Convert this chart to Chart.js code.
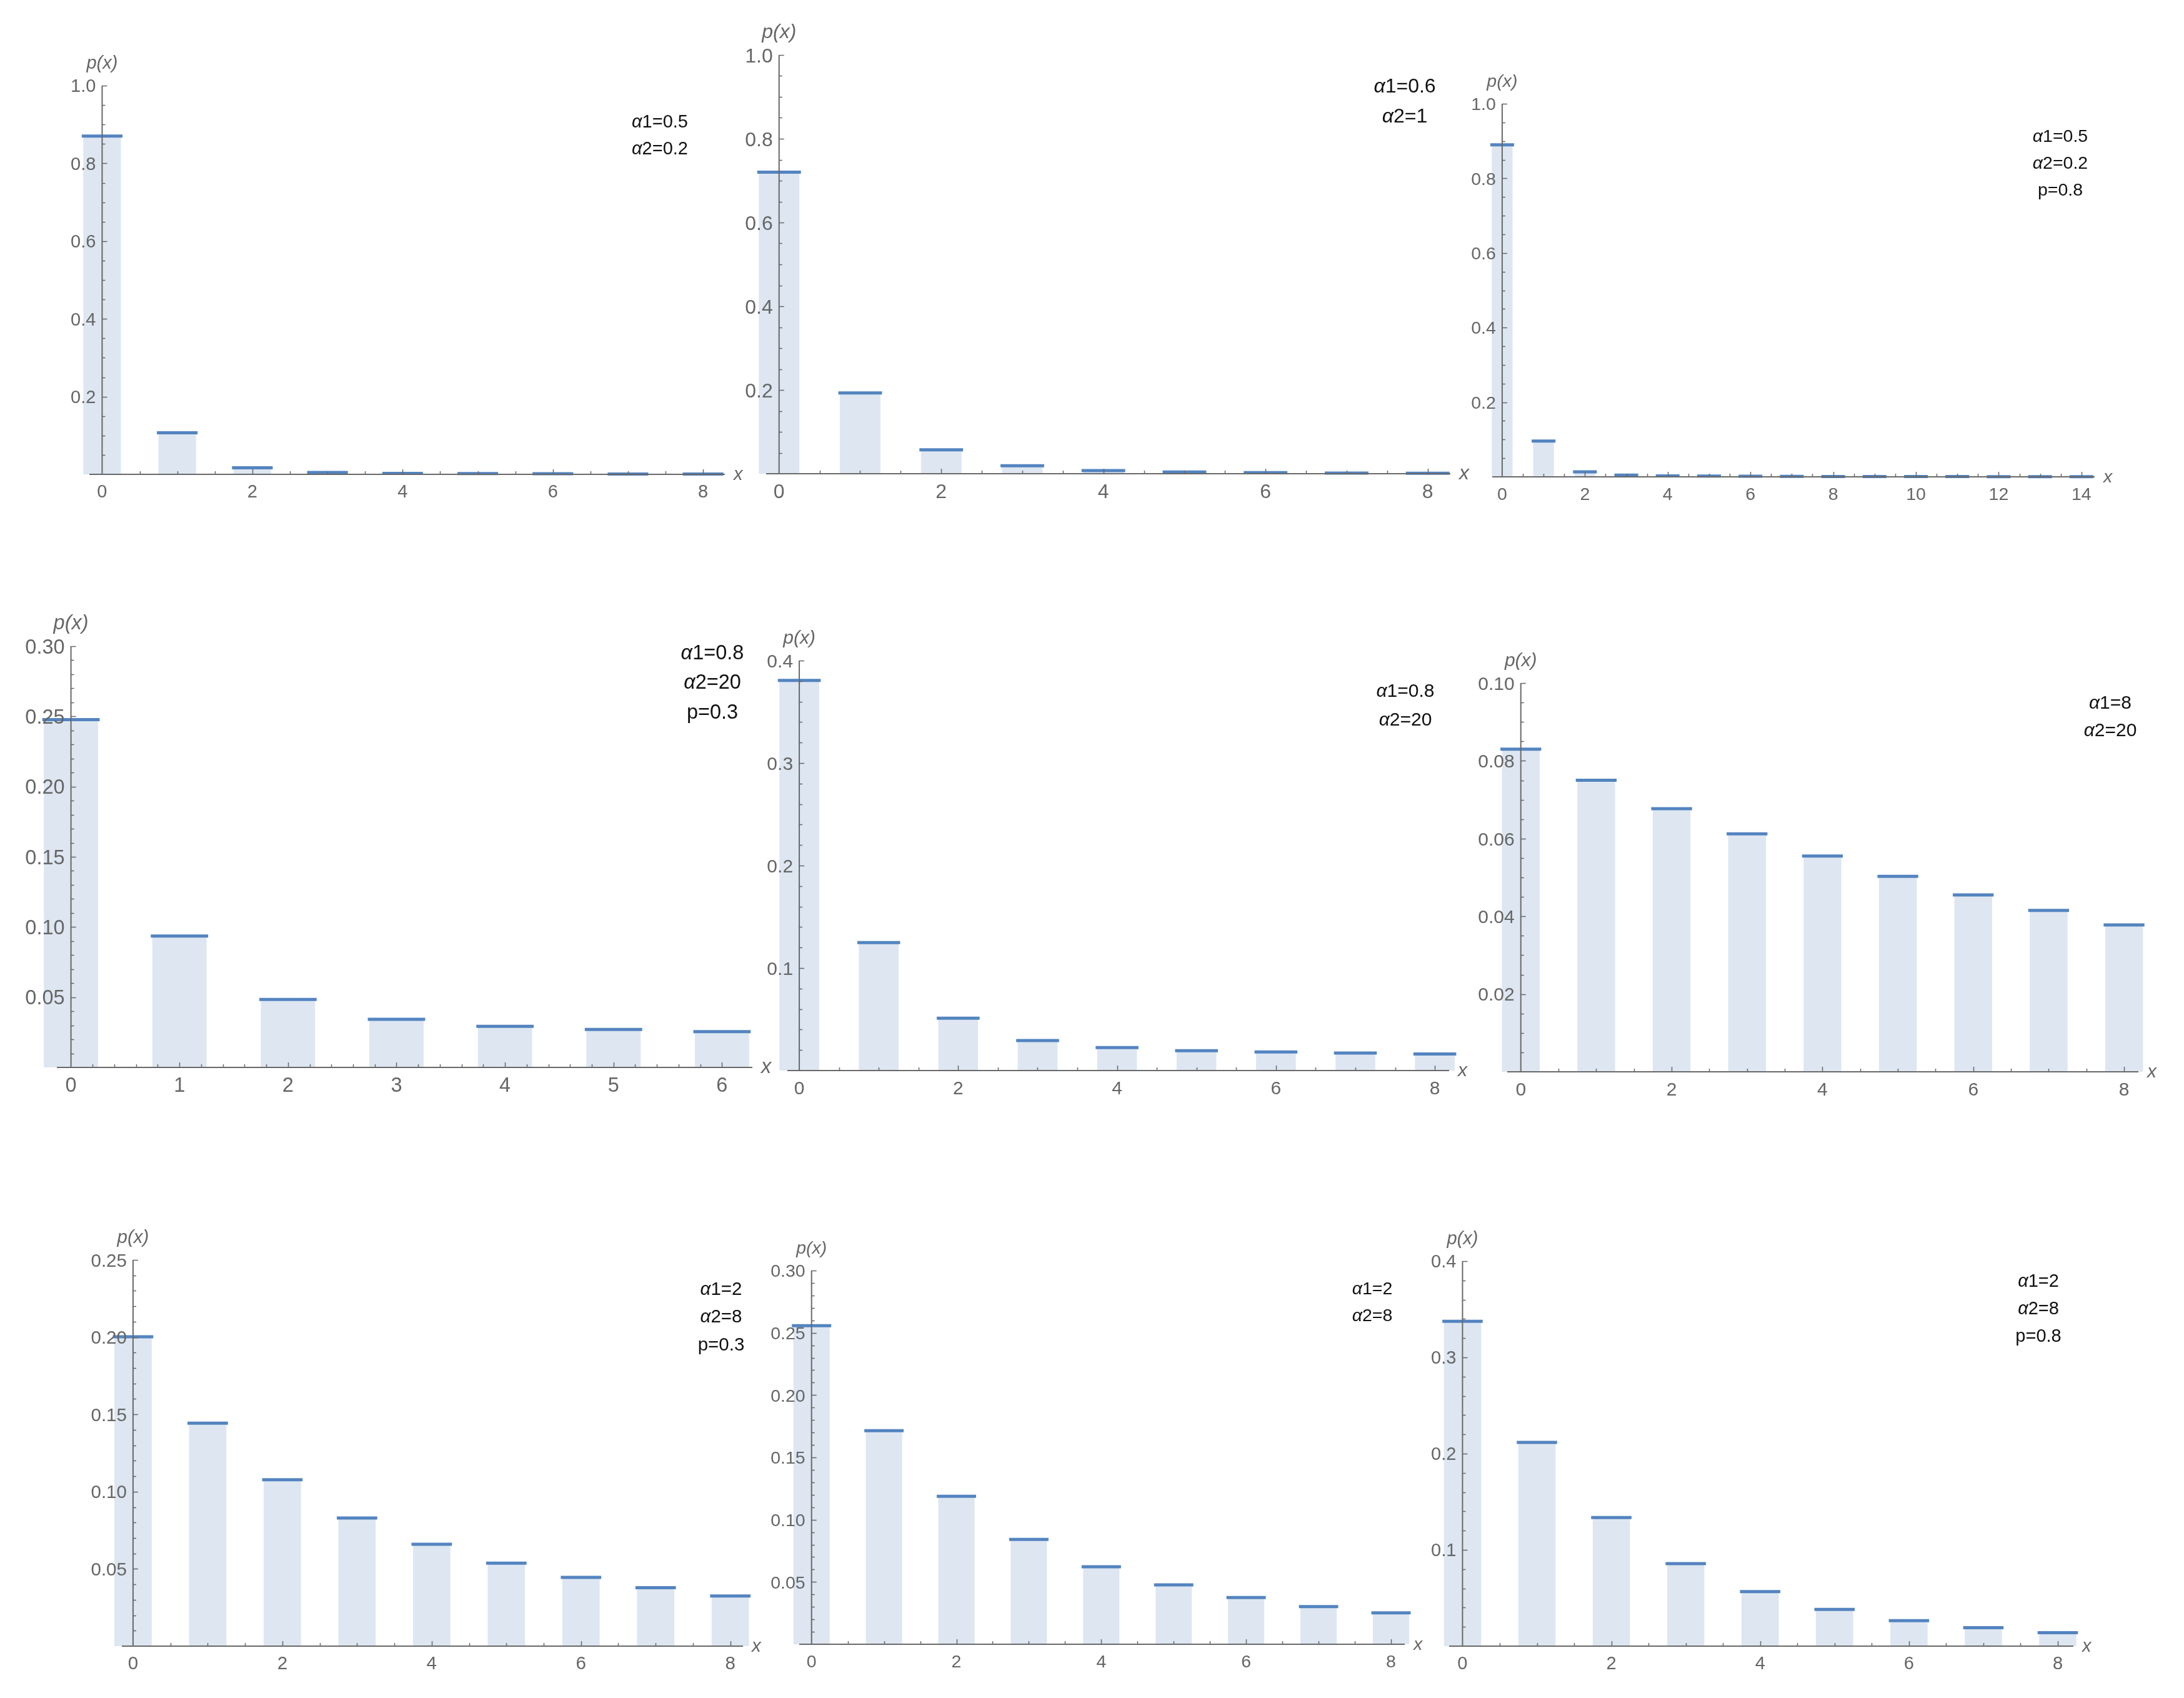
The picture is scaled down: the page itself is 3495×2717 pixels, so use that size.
<!DOCTYPE html>
<html>
<head>
<meta charset="utf-8">
<script src="https://cdn.jsdelivr.net/npm/chart.js@4.4.1/dist/chart.umd.min.js"></script>
<style>
html, body { margin: 0; background: #fff; }
#board { position: relative; width: 3495px; height: 2717px; overflow: hidden; background: #fff; }
#board canvas { position: absolute; }
</style>
</head>
<body>
<div id="board"></div>
<script>
// x values of the bars
const xTo6 = [0, 1, 2, 3, 4, 5, 6];
const xTo8 = [0, 1, 2, 3, 4, 5, 6, 7, 8];
const xTo14 = [0, 1, 2, 3, 4, 5, 6, 7, 8, 9, 10, 11, 12, 13, 14];

// p(x), one array per panel (row by row)
const pA = [0.870, 0.107, 0.017, 0.005, 0.0025, 0.002, 0.0015, 0.001, 0.001];
const pB = [0.720, 0.193, 0.057, 0.019, 0.0076, 0.004, 0.0025, 0.0015, 0.001];
const pC = [0.890, 0.096, 0.0135, 0.0045, 0.0025, 0.002, 0.0015, 0.0012, 0.001, 0.0009, 0.0008, 0.0007, 0.0006, 0.0005, 0.0005];
const pD = [0.2477, 0.0936, 0.0484, 0.0343, 0.0293, 0.0270, 0.0255];
const pE = [0.3807, 0.1248, 0.0511, 0.0293, 0.0224, 0.0193, 0.0181, 0.0171, 0.0162];
const pF = [0.0830, 0.0750, 0.0677, 0.0612, 0.0555, 0.0503, 0.0455, 0.0415, 0.0378];
const pG = [0.2002, 0.1443, 0.1077, 0.0829, 0.0659, 0.0537, 0.0445, 0.0378, 0.0325];
const pH = [0.2557, 0.1714, 0.1188, 0.0841, 0.0622, 0.0476, 0.0375, 0.0302, 0.0252];
const pI = [0.3375, 0.2117, 0.1336, 0.0857, 0.0567, 0.0381, 0.0264, 0.0192, 0.0140];

// tick labels
const yTicks1 = ['0.2', '0.4', '0.6', '0.8', '1.0'];
const yTicks030 = ['0.05', '0.10', '0.15', '0.20', '0.25', '0.30'];
const yTicks025 = ['0.05', '0.10', '0.15', '0.20', '0.25'];
const yTicks04 = ['0.1', '0.2', '0.3', '0.4'];
const yTicks010 = ['0.02', '0.04', '0.06', '0.08', '0.10'];
const xTicks8 = ['0', '2', '4', '6', '8'];
const xTicks6 = ['0', '1', '2', '3', '4', '5', '6'];
const xTicks14 = ['0', '2', '4', '6', '8', '10', '12', '14'];

// parameter notes
const noteA = ['α1=0.5', 'α2=0.2'];
const noteB = ['α1=0.6', 'α2=1'];
const noteC = ['α1=0.5', 'α2=0.2', 'p=0.8'];
const noteD = ['α1=0.8', 'α2=20', 'p=0.3'];
const noteE = ['α1=0.8', 'α2=20'];
const noteF = ['α1=8', 'α2=20'];
const noteG = ['α1=2', 'α2=8', 'p=0.3'];
const noteH = ['α1=2', 'α2=8'];
const noteI = ['α1=2', 'α2=8', 'p=0.8'];

const fillColor = '#dde6f1';
const capColor = '#5384c0';
const axisColor = '#686868';
const labelColor = '#666666';
const fontName = '"Liberation Sans", Arial, sans-serif';

// where each panel sits on the page (axis origin, top of y axis, px per unit on x)
const panels = [
    {xs: xTo8,  ys: pA, yMax: 1.0,  yLab: yTicks1,   yMinor: 0.05,  xLab: xTicks8,  xMinor: 0.5, ax: 163,  ay: 759,  top: 137,  unit: 120.2, x0: -0.17, x1: 8.29,  note: noteA, tx: 1056, ty: 194,  dy: 43,   fs: 29},
    {xs: xTo8,  ys: pB, yMax: 1.0,  yLab: yTicks1,   yMinor: 0.05,  xLab: xTicks8,  xMinor: 0.5, ax: 1247, ay: 758,  top: 88,   unit: 129.75,x0: -0.16, x1: 8.28,  note: noteB, tx: 2248, ty: 136,  dy: 48,   fs: 32},
    {xs: xTo14, ys: pC, yMax: 1.0,  yLab: yTicks1,   yMinor: 0.05,  xLab: xTicks14, xMinor: 0.5, ax: 2404, ay: 763,  top: 166,  unit: 66.2,  x0: -0.24, x1: 14.32, note: noteC, tx: 3297, ty: 217,  dy: 43,   fs: 28.5},
    {xs: xTo6,  ys: pD, yMax: 0.30, yLab: yTicks030, yMinor: 0.01,  xLab: xTicks6,  xMinor: 0.2, ax: 114,  ay: 1708, top: 1034, unit: 173.7, x0: -0.13, x1: 6.28,  note: noteD, tx: 1140, ty: 1043, dy: 47.5, fs: 32.5},
    {xs: xTo8,  ys: pE, yMax: 0.4,  yLab: yTicks04,  yMinor: 0.02,  xLab: xTicks8,  xMinor: 0.5, ax: 1279, ay: 1713, top: 1057, unit: 127.1, x0: -0.15, x1: 8.18,  note: noteE, tx: 2249, ty: 1104, dy: 46,   fs: 30},
    {xs: xTo8,  ys: pF, yMax: 0.10, yLab: yTicks010, yMinor: 0.005, xLab: xTicks8,  xMinor: 0.5, ax: 2434, ay: 1715, top: 1093, unit: 120.7, x0: -0.18, x1: 8.19,  note: noteF, tx: 3377, ty: 1123, dy: 44,   fs: 30},
    {xs: xTo8,  ys: pG, yMax: 0.25, yLab: yTicks025, yMinor: 0.01,  xLab: xTicks8,  xMinor: 0.5, ax: 213,  ay: 2634, top: 2016, unit: 119.5, x0: -0.15, x1: 8.17,  note: noteG, tx: 1154, ty: 2061, dy: 44.5, fs: 29.5},
    {xs: xTo8,  ys: pH, yMax: 0.30, yLab: yTicks030, yMinor: 0.01,  xLab: xTicks8,  xMinor: 0.5, ax: 1299, ay: 2631, top: 2033, unit: 115.9, x0: -0.17, x1: 8.19,  note: noteH, tx: 2196, ty: 2061, dy: 43,   fs: 28.5},
    {xs: xTo8,  ys: pI, yMax: 0.4,  yLab: yTicks04,  yMinor: 0.02,  xLab: xTicks8,  xMinor: 0.5, ax: 2340, ay: 2634, top: 2018, unit: 119.1, x0: -0.18, x1: 8.21,  note: noteI, tx: 3262, ty: 2049, dy: 44,   fs: 29}
];

const padL = 170, padR = 90, padT = 80, padB = 70;

function isMajor(v, majors) {
    return majors.some(m => Math.abs(m - v) < 1e-9);
}

// Mathematica style axes: lines through the origin, ticks pointing inward
function axesPlugin(p, ox, oy) {
    return {
        id: 'assi',
        afterDatasetsDraw(chart) {
            const {ctx, scales: {x, y}} = chart;
            const X0 = x.getPixelForValue(0), Y0 = y.getPixelForValue(0);
            const fs = p.fs;
            ctx.save();
            ctx.strokeStyle = axisColor;
            ctx.lineWidth = 2;
            ctx.beginPath();
            ctx.moveTo(x.getPixelForValue(p.x0), Y0);
            ctx.lineTo(x.getPixelForValue(p.x1), Y0);
            ctx.moveTo(X0, Y0);
            ctx.lineTo(X0, y.getPixelForValue(p.yMax));
            ctx.stroke();

            // ticks
            const yMaj = p.yLab.map(Number);
            const xMaj = p.xLab.map(Number);
            ctx.lineWidth = 1.5;
            ctx.beginPath();
            const ny = Math.round(p.yMax / p.yMinor);
            for (let k = 1; k <= ny; k++) {
                const v = k * p.yMinor;
                const py = Math.round(y.getPixelForValue(v)) + 0.5;
                const len = isMajor(v, yMaj) ? 8 : 5;
                ctx.moveTo(X0, py);
                ctx.lineTo(X0 + len, py);
            }
            const xEnd = xMaj[xMaj.length - 1];
            const nx = Math.round(xEnd / p.xMinor);
            for (let k = 1; k <= nx; k++) {
                const v = k * p.xMinor;
                const px = Math.round(x.getPixelForValue(v)) + 0.5;
                const len = isMajor(v, xMaj) ? 8 : 5;
                ctx.moveTo(px, Y0);
                ctx.lineTo(px, Y0 - len);
            }
            ctx.stroke();

            // tick labels
            ctx.fillStyle = labelColor;
            ctx.font = `${fs}px ${fontName}`;
            ctx.textBaseline = 'alphabetic';
            ctx.textAlign = 'right';
            p.yLab.forEach(lab => {
                ctx.fillText(lab, X0 - 10, y.getPixelForValue(Number(lab)) + 0.36 * fs);
            });
            ctx.textAlign = 'center';
            p.xLab.forEach(lab => {
                ctx.fillText(lab, x.getPixelForValue(Number(lab)), Y0 + 16 + 0.72 * fs);
            });

            // axis names
            ctx.font = `italic ${fs}px ${fontName}`;
            ctx.fillText('p(x)', X0, y.getPixelForValue(p.yMax) - 27);
            ctx.textAlign = 'left';
            ctx.fillText('x', x.getPixelForValue(p.x1) + 14, Y0 + 9);

            // parameter notes, centred, alpha in italic
            ctx.fillStyle = '#111';
            p.note.forEach((riga, i) => {
                const cy = p.ty - oy + i * p.dy + 0.36 * fs;
                let head = '', rest = riga;
                if (riga.startsWith('α')) { head = 'α'; rest = riga.slice(1); }
                ctx.font = `italic ${fs}px ${fontName}`;
                const wh = head ? ctx.measureText(head).width : 0;
                ctx.font = `${fs}px ${fontName}`;
                const wr = ctx.measureText(rest).width;
                let sx = p.tx - ox - (wh + wr) / 2;
                ctx.textAlign = 'left';
                if (head) {
                    ctx.font = `italic ${fs}px ${fontName}`;
                    ctx.fillText(head, sx, cy);
                    sx += wh;
                }
                ctx.font = `${fs}px ${fontName}`;
                ctx.fillText(rest, sx, cy);
            });
            ctx.restore();
        }
    };
}

const board = document.getElementById('board');

panels.forEach(p => {
    const left = p.ax + p.x0 * p.unit;
    const right = p.ax + p.x1 * p.unit;
    const w = Math.round(right - left) + padL + padR;
    const h = (p.ay - p.top) + padT + padB;
    const ox = Math.round(left) - padL, oy = p.top - padT;
    const cv = document.createElement('canvas');
    cv.width = w; cv.height = h;
    cv.style.left = ox + 'px';
    cv.style.top = oy + 'px';
    cv.style.width = w + 'px';
    cv.style.height = h + 'px';
    board.appendChild(cv);

    const punti = p.xs.map((x, k) => ({x: x, y: p.ys[k]}));
    // the cap is as wide as the bar plus a little
    const capRadius = (c) => {
        const s = c.chart.scales.x;
        return (s.getPixelForValue(0.25) - s.getPixelForValue(0)) + 2.5;
    };

    new Chart(cv, {
        type: 'bar',
        data: {
            datasets: [
                {type: 'bar', data: punti, backgroundColor: fillColor, borderWidth: 0,
                 barPercentage: 0.5, categoryPercentage: 1.0, clip: false, order: 2},
                {type: 'line', data: punti, showLine: false, pointStyle: 'line',
                 pointRadius: capRadius, pointBorderWidth: 5, pointBorderColor: capColor,
                 pointBackgroundColor: capColor, clip: false, order: 1}
            ]
        },
        options: {
            responsive: false,
            animation: false,
            devicePixelRatio: 1,
            events: [],
            layout: {padding: {left: padL, right: padR, top: padT, bottom: padB}},
            scales: {
                x: {
                    type: 'linear', min: p.x0, max: p.x1, display: false, offset: false,
                    // ticks only at the bar positions, so the bar width is one unit * 0.5
                    afterBuildTicks: (s) => { s.ticks = p.xs.map(v => ({value: v})); }
                },
                y: {min: 0, max: p.yMax, display: false}
            },
            plugins: {legend: {display: false}, tooltip: {enabled: false}}
        },
        plugins: [axesPlugin(p, ox, oy)]
    });
});
</script>
</body>
</html>
